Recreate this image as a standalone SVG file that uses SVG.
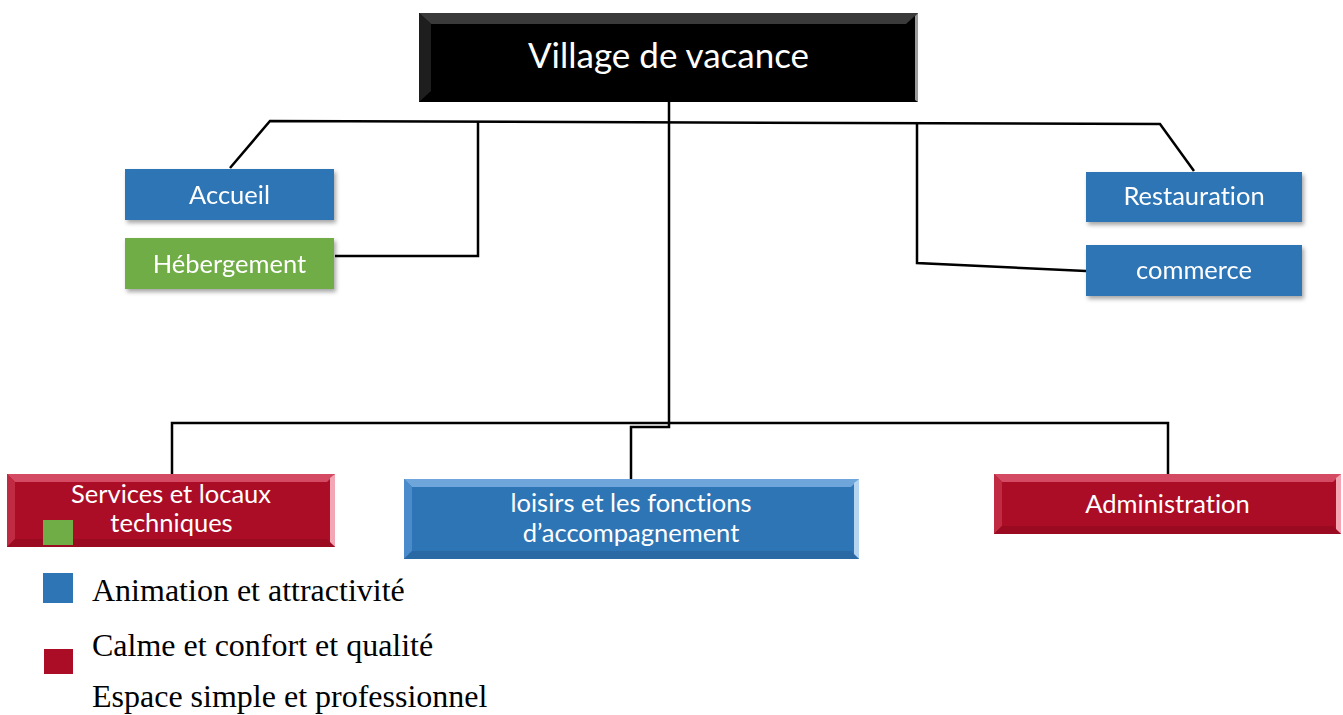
<svg xmlns="http://www.w3.org/2000/svg" width="1343" height="715" viewBox="0 0 1343 715">
<style>
.lbl{font-family:Lato,"Open Sans",sans-serif;fill:#fff;text-anchor:middle;font-size:25.5px;font-variant-ligatures:none;font-feature-settings:"liga" 0,"dlig" 0}
.leg{font-family:"Liberation Serif","Times New Roman",serif;fill:#000;font-size:32px}
.con{fill:none;stroke:#000;stroke-width:2.5;stroke-linejoin:miter}
.blue{fill:#2E75B6}.green{fill:#70AD47}.red{fill:#AB0D27}
</style>
<defs>
<filter id="sh" x="-10%" y="-20%" width="130%" height="160%">
<feDropShadow dx="2" dy="3" stdDeviation="2" flood-color="#000" flood-opacity="0.35"/>
</filter>
</defs>
<rect width="1343" height="715" fill="#fff"/>
<g id="connectors">
<polyline class="con" points="669,102 669,427 631,427 631,479"/>
<polyline class="con" points="172,474 172,423 1168,423 1168,474"/>
<polyline class="con" points="230,168 270,121 1160,124 1194,171"/>
<polyline class="con" points="478,122 478,256 335,256"/>
<polyline class="con" points="917,123 917,263 1086,271"/>
</g>
<g id="node-village">
<rect x="419" y="13" width="499" height="89" fill="#000"/>
<polygon points="419,13 918,13 906,24 431,24" fill="#3a3a3a"/>
<polygon points="419,13 431,24 431,91 419,102" fill="#1e1e1e"/>
<polygon points="918,13 918,102 915,100 915,16" fill="#9a9a9a"/>
<text class="lbl" x="668.5" y="68" style="font-size:35px">Village de vacance</text>
</g>
<g id="node-accueil" filter="url(#sh)">
<rect class="blue" x="125" y="169" width="209" height="51"/>
<text class="lbl" x="229.5" y="204">Accueil</text>
</g>
<g id="node-hebergement" filter="url(#sh)">
<rect class="green" x="125" y="238" width="209" height="51"/>
<text class="lbl" x="229.5" y="273">Hébergement</text>
</g>
<g id="node-restauration" filter="url(#sh)">
<rect class="blue" x="1086" y="172" width="216" height="50"/>
<text class="lbl" x="1194" y="205">Restauration</text>
</g>
<g id="node-commerce" filter="url(#sh)">
<rect class="blue" x="1086" y="245" width="216" height="51"/>
<text class="lbl" x="1194" y="279">commerce</text>
</g>
<g id="node-services">
<rect class="red" x="7" y="474" width="328" height="73"/>
<polygon points="7,474 335,474 327,482 15,482" fill="#d44a63"/>
<polygon points="7,474 15,482 15,539 7,547" fill="#c02a42"/>
<polygon points="335,474 335,547 330,543 330,478" fill="#f3a6b4"/>
<polygon points="7,547 335,547 327,539 15,539" fill="#9a0a21"/>
<text class="lbl" x="171" y="503">Services et locaux</text>
<text class="lbl" x="171.5" y="532">techniques</text>
<rect class="green" x="43" y="520" width="30" height="25"/>
</g>
<g id="node-loisirs">
<rect class="blue" x="404" y="479" width="455" height="80"/>
<polygon points="404,479 859,479 851,487 412,487" fill="#6ea6dc"/>
<polygon points="404,479 412,487 412,551 404,559" fill="#4a8ccb"/>
<polygon points="859,479 859,559 854,555 854,483" fill="#b5d4f0"/>
<polygon points="404,559 859,559 851,551 412,551" fill="#2a69a4"/>
<text class="lbl" x="631" y="512">loisirs et les fonctions</text>
<text class="lbl" x="631" y="542">d’accompagnement</text>
</g>
<g id="node-administration">
<rect class="red" x="994" y="474" width="347" height="60"/>
<polygon points="994,474 1341,474 1333,482 1002,482" fill="#d44a63"/>
<polygon points="994,474 1002,482 1002,526 994,534" fill="#c02a42"/>
<polygon points="1341,474 1341,534 1336,530 1336,478" fill="#f3a6b4"/>
<polygon points="994,534 1341,534 1333,526 1002,526" fill="#9a0a21"/>
<text class="lbl" x="1167.5" y="513">Administration</text>
</g>
<g id="legend">
<rect class="blue" x="43" y="573" width="30" height="30"/>
<text class="leg" x="92" y="601">Animation et attractivité</text>
<rect class="red" x="44" y="649" width="29" height="25"/>
<text class="leg" x="92" y="656">Calme et confort et qualité</text>
<text class="leg" x="92" y="707">Espace simple et professionnel</text>
</g>
</svg>
